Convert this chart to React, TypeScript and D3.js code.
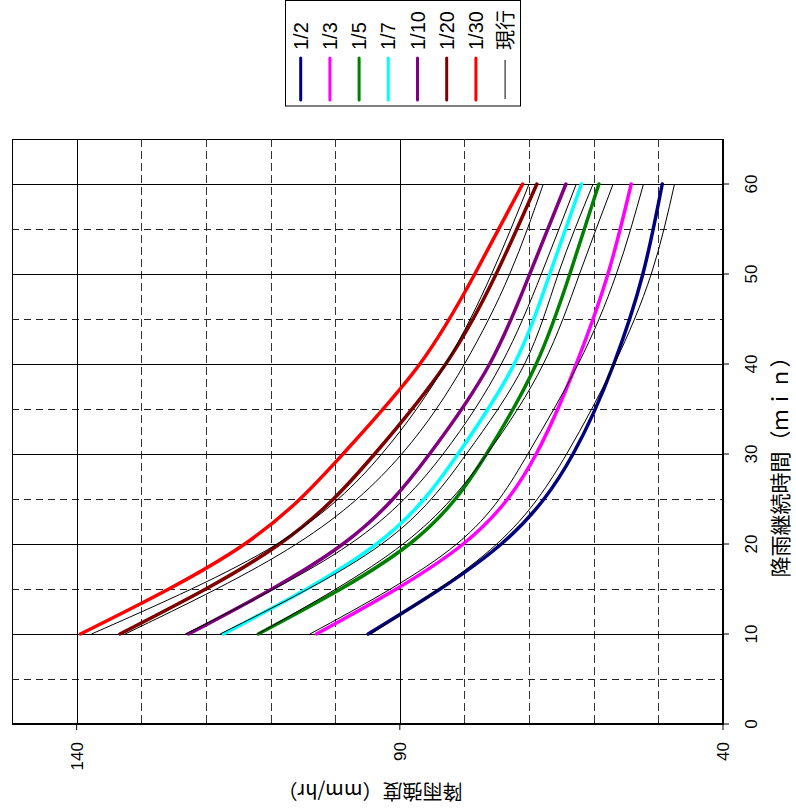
import React from "react";
import * as d3 from "d3";

// Rainfall duration (min)
const durations = [10, 20, 30, 40, 50, 60];

// Return periods, legend labels and colours
const periods = ["1/2", "1/3", "1/5", "1/7", "1/10", "1/20", "1/30"];
const periodColors = ["#000080", "#FF00FF", "#008000", "#00FFFF", "#800080", "#800000", "#FF0000"];

// New intensity curves (mm/hr) per period
const new1_2 = [94.9, 74.3, 63.2, 56.9, 52.4, 49.4];
const new1_3 = [102.9, 80.2, 68.9, 62.7, 57.8, 54.2];
const new1_5 = [111.9, 88.5, 76.6, 68.9, 63.7, 59.2];
const new1_7 = [117.3, 93.6, 81.0, 72.3, 66.8, 61.9];
const new1_10 = [122.7, 98.8, 85.4, 76.1, 69.9, 64.3];
const new1_20 = [133.3, 108.6, 93.9, 82.9, 75.1, 68.8];
const new1_30 = [139.4, 114.0, 98.8, 86.9, 78.4, 71.0];

// Current ("現行") curves (mm/hr)
const cur1_2 = [94.5, 75.0, 64.2, 56.8, 51.1, 47.5];
const cur1_3 = [103.9, 81.2, 70.2, 62.4, 56.5, 52.3];
const cur1_5 = [112.0, 89.5, 76.5, 67.8, 62.2, 57.0];
const cur1_7 = [117.8, 92.8, 79.7, 70.7, 65.5, 60.1];
const cur1_10 = [123.2, 97.7, 83.3, 74.3, 68.1, 62.7];
const cur1_20 = [132.5, 106.0, 89.7, 80.0, 73.0, 67.8];
const cur1_30 = [137.7, 109.0, 92.8, 82.9, 75.8, 70.0];

const newSeries = [new1_2, new1_3, new1_5, new1_7, new1_10, new1_20, new1_30];
const curSeries = [cur1_2, cur1_3, cur1_5, cur1_7, cur1_10, cur1_20, cur1_30];

// Axis ticks
const timeTicks = [0, 10, 20, 30, 40, 50, 60];
const timeMinor = [5, 15, 25, 35, 45, 55];
const intensityMajor = [140, 90, 40];
const intensityMinor = [130, 120, 110, 100, 80, 70, 60, 50];

const legendCurrent = "現行";
const timeTitle = "降雨継続時間（ｍｉｎ）";
const intensityTitle = "降雨強度（mm/hr）";

const W = 796;
const H = 809;
const LATIN = "'Liberation Sans', Arial, sans-serif";
const CJK = "'Noto Sans CJK JP', 'Noto Sans', sans-serif";

export default function App() {
  const x = d3.scaleLinear().domain([150, 40]).range([12, 723]);
  const y = d3.scaleLinear().domain([0, 65]).range([724, 139]);

  const line = d3
    .line<number>()
    .x((v) => x(v))
    .y((_, i) => y(durations[i]))
    .curve(d3.curveNatural);

  const left = x(150);
  const right = x(40);
  const top = y(65);
  const bottom = y(0);

  const legX0 = 300.7;
  const legStep = 29.2;

  return (
    <svg
      width={W}
      height={H}
      style={{ position: "absolute", left: 0, top: 0, background: "#fff" }}
    >
      <rect x={0} y={0} width={W} height={H} fill="#fff" />
      {/* plot frame */}
      <rect x={left + 0.5} y={top + 0.5} width={right - left} height={bottom - top} fill="#fff" stroke="#000" strokeWidth={1} />

      {/* minor (dashed) time grid */}
      {timeMinor.map((t) => (
        <line key={"tm" + t} x1={left} x2={right} y1={Math.round(y(t)) + 0.5} y2={Math.round(y(t)) + 0.5} stroke="#222" strokeWidth={1} strokeDasharray="7,5" />
      ))}
      {/* minor (dashed) intensity grid */}
      {intensityMinor.map((v) => (
        <line key={"im" + v} x1={Math.round(x(v)) + 0.5} x2={Math.round(x(v)) + 0.5} y1={top} y2={bottom} stroke="#333" strokeWidth={1} strokeDasharray="8,4" />
      ))}
      {/* major time grid */}
      {timeTicks.filter((t) => t > 0).map((t) => (
        <line key={"tM" + t} x1={left} x2={right} y1={Math.round(y(t)) + 0.5} y2={Math.round(y(t)) + 0.5} stroke="#000" strokeWidth={1} />
      ))}
      {/* major intensity grid */}
      {intensityMajor.filter((v) => v > 40).map((v) => (
        <line key={"iM" + v} x1={Math.round(x(v)) + 0.5} x2={Math.round(x(v)) + 0.5} y1={top} y2={bottom} stroke="#000" strokeWidth={1} />
      ))}

      {/* new curves */}
      {newSeries.map((s, i) => (
        <path key={"n" + i} d={line(s) || ""} fill="none" stroke={periodColors[i]} strokeWidth={3.5} strokeLinecap="round" />
      ))}
      {/* current curves */}
      {curSeries.map((s, i) => (
        <path key={"c" + i} d={line(s) || ""} fill="none" stroke="#000" strokeWidth={1} />
      ))}

      {/* axes lines */}
      <line x1={right} x2={right} y1={top} y2={bottom + 1} stroke="#000" strokeWidth={2} />
      <line x1={left} x2={right + 1} y1={bottom} y2={bottom} stroke="#000" strokeWidth={2} />

      {/* time ticks + labels (right side) */}
      {timeTicks.map((t) => (
        <g key={"tt" + t}>
          <line x1={right} x2={right + 6} y1={y(t)} y2={y(t)} stroke="#000" strokeWidth={1} />
          <text
            x={757}
            y={y(t)}
            transform={`rotate(-90, 757, ${y(t)})`}
            textAnchor="middle"
            fontFamily={LATIN}
            fontSize={17}
            fill="#000"
          >
            {t}
          </text>
        </g>
      ))}

      {/* intensity ticks + labels (bottom) */}
      {intensityMajor.map((v) => (
        <g key={"it" + v}>
          <line x1={x(v)} x2={x(v)} y1={bottom} y2={bottom + 6} stroke="#000" strokeWidth={1} />
          <text
            x={x(v) + 6}
            y={742}
            transform={`rotate(-90, ${x(v) + 6}, 742)`}
            textAnchor="end"
            fontFamily={LATIN}
            fontSize={17}
            fill="#000"
          >
            {v}
          </text>
        </g>
      ))}

      {/* axis titles */}
      <text
        x={779}
        y={462}
        transform="rotate(-90, 779, 462)"
        textAnchor="middle"
        dominantBaseline="central"
        fontFamily={CJK}
        fontSize={21}
        fill="#000"
      >
        {timeTitle}
      </text>
      <text
        x={370}
        y={792}
        transform="rotate(180, 370, 792)"
        textAnchor="middle"
        dominantBaseline="central"
        fontFamily={CJK}
        fontSize={20}
        fill="#000"
      >
        {intensityTitle}
      </text>

      {/* legend */}
      <rect x={285.5} y={0.5} width={235} height={105.5} fill="#fff" stroke="#000" strokeWidth={1} />
      {periods.map((p, i) => {
        const lx = legX0 + i * legStep;
        return (
          <g key={"lg" + p}>
            <line x1={lx} x2={lx} y1={58} y2={100} stroke={periodColors[i]} strokeWidth={3} strokeLinecap="round" />
            <text
              x={lx + 7}
              y={50}
              transform={`rotate(-90, ${lx + 7}, 50)`}
              textAnchor="start"
              fontFamily={LATIN}
              fontSize={20}
              fill="#000"
            >
              {p}
            </text>
          </g>
        );
      })}
      <g>
        <line x1={legX0 + 7 * legStep} x2={legX0 + 7 * legStep} y1={60} y2={99} stroke="#000" strokeWidth={1} />
        <text
          x={legX0 + 7 * legStep + 8}
          y={50}
          transform={`rotate(-90, ${legX0 + 7 * legStep + 8}, 50)`}
          textAnchor="start"
          fontFamily={CJK}
          fontSize={20}
          fill="#000"
        >
          {legendCurrent}
        </text>
      </g>
    </svg>
  );
}
